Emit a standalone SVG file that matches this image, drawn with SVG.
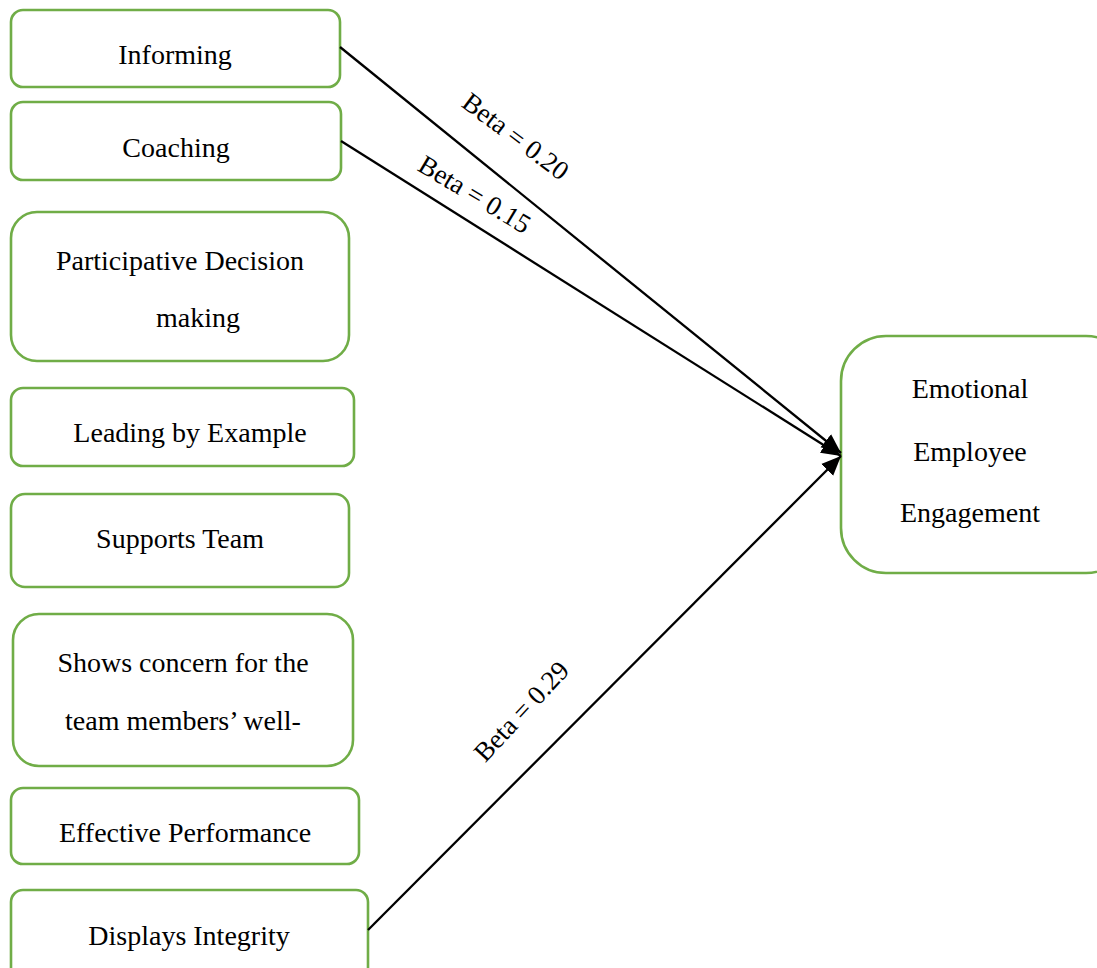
<svg xmlns="http://www.w3.org/2000/svg" width="1097" height="968" viewBox="0 0 1097 968">
  <style>
    .box { fill: #ffffff; stroke: #70AD47; stroke-width: 2.6; }
    .lbl { font-family: "Liberation Serif", "Times New Roman", serif; font-size: 28px; fill: #000000; text-anchor: middle; }
    .beta { font-family: "Liberation Serif", "Times New Roman", serif; font-size: 27px; fill: #000000; text-anchor: middle; }
    .edge { stroke: #000000; stroke-width: 2.3; fill: none; }
  </style>
  <defs>
    <marker id="arrow" viewBox="0 0 10 10" refX="10" refY="5" markerWidth="8.5" markerHeight="8.5" markerUnits="strokeWidth" orient="auto">
      <path d="M0,0.7 L10,5 L0,9.3 Z" fill="#000000"/>
    </marker>
  </defs>
  <rect width="1097" height="968" fill="#ffffff"/>

  <g id="informing">
    <rect class="box" x="11" y="10" width="329" height="77" rx="12"/>
    <text class="lbl" x="175" y="64">Informing</text>
  </g>
  <g id="coaching">
    <rect class="box" x="11" y="102" width="330" height="78" rx="12"/>
    <text class="lbl" x="176" y="157">Coaching</text>
  </g>
  <g id="participative">
    <rect class="box" x="11" y="212" width="338" height="149" rx="26"/>
    <text class="lbl" x="180" y="270">Participative Decision</text>
    <text class="lbl" x="198" y="327">making</text>
  </g>
  <g id="leading">
    <rect class="box" x="11" y="388" width="343" height="78" rx="12"/>
    <text class="lbl" x="190" y="442">Leading by Example</text>
  </g>
  <g id="supports">
    <rect class="box" x="11" y="494" width="338" height="93" rx="14"/>
    <text class="lbl" x="180" y="548">Supports Team</text>
  </g>
  <g id="concern">
    <rect class="box" x="13" y="614" width="340" height="152" rx="26"/>
    <text class="lbl" x="183" y="672">Shows concern for the</text>
    <text class="lbl" x="183" y="730">team members’ well-</text>
  </g>
  <g id="performance">
    <rect class="box" x="11" y="788" width="348" height="76" rx="12"/>
    <text class="lbl" x="185" y="842">Effective Performance</text>
  </g>
  <g id="integrity">
    <rect class="box" x="11" y="890" width="357" height="100" rx="12"/>
    <text class="lbl" x="189" y="945">Displays Integrity</text>
  </g>
  <g id="engagement">
    <rect class="box" x="841" y="336" width="290" height="237" rx="45"/>
    <text class="lbl" x="970" y="398">Emotional</text>
    <text class="lbl" x="970" y="461">Employee</text>
    <text class="lbl" x="970" y="522">Engagement</text>
  </g>

  <g id="connectors">
    <line class="edge" x1="340" y1="47" x2="841" y2="453" marker-end="url(#arrow)"/>
    <line class="edge" x1="341" y1="141" x2="841" y2="456" marker-end="url(#arrow)"/>
    <line class="edge" x1="368" y1="930" x2="841" y2="456" marker-end="url(#arrow)"/>
    <text class="beta" transform="translate(516,136) rotate(37)" dy="0.35em">Beta = 0.20</text>
    <text class="beta" transform="translate(475,194) rotate(31)" dy="0.35em">Beta = 0.15</text>
    <text class="beta" transform="translate(521,711) rotate(-47)" dy="0.35em">Beta = 0.29</text>
  </g>
</svg>
